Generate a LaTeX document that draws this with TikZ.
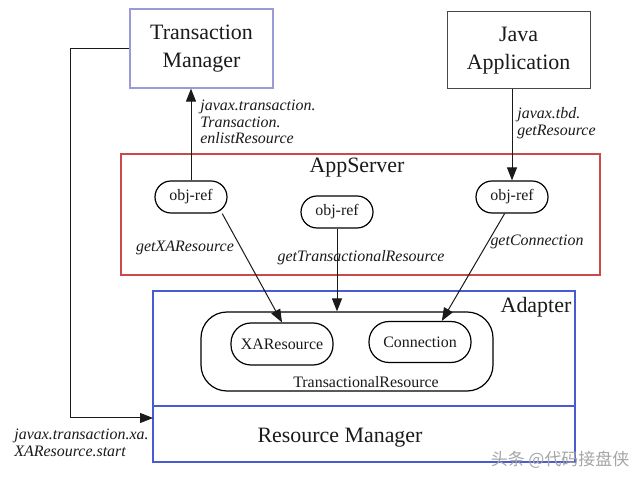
\documentclass[tikz,border=0pt]{standalone}
\usepackage{fontspec}
\setmainfont{Liberation Serif}
\newfontfamily\cjk{Noto Sans CJK SC}
\usetikzlibrary{arrows.meta}
\definecolor{tmblue}{HTML}{9A9AD8}
\definecolor{serverred}{HTML}{C94A4A}
\definecolor{adaptblue}{HTML}{4A5AD0}
\definecolor{ink}{HTML}{1A1A1A}
\tikzset{
  box/.style={draw, rectangle, line width=0.6bp, align=center, inner sep=0pt},
  pill/.style={box, rounded corners=8bp, minimum width=36bp, minimum height=16bp},
  call/.style={-{Triangle[length=6.5bp,width=5bp]}, line width=0.5bp, ink},
  title/.style={font=\fontsize{11}{14}\selectfont},
  method/.style={font=\fontsize{8}{8.3}\selectfont\itshape, align=left, inner sep=0pt},
}
\begin{document}
\begin{tikzpicture}[x=0.5bp, y=-0.5bp, every node/.style={text=ink, font=\fontsize{8}{9.5}\selectfont}]
    \useasboundingbox[fill=white] (0,0) rectangle (640,481);
    % outer boxes
    \node[box, title, draw=tmblue, minimum width=71.5bp, minimum height=39.5bp] (tm) at (201.5,48.5) {Transaction\\Manager};
    \node[box, title, draw=ink!80, line width=0.5bp, minimum width=71.5bp, minimum height=38.5bp] (ja) at (518.5,50.5) {Java\\Application};
    \node[box, draw=serverred, minimum width=239.5bp, minimum height=60.5bp] (server) at (360.5,214.5) {};
    \node[title] (servername) at (357,168) {AppServer};
    \node[box, draw=adaptblue, minimum width=211bp, minimum height=57.5bp] (adapter) at (364,348.5) {};
    \node[box, draw=adaptblue, minimum width=211bp, minimum height=28bp] (rm) at (364,434) {};
    \node[title] at (536,307) {Adapter};
    \node[title] at (340,438) {Resource Manager};
    % object references
    \node[pill] (objL) at (191,197) {obj-ref};
    \node[pill] (objM) at (337,212) {obj-ref};
    \node[pill] (objR) at (512,197) {obj-ref};
    % resources
    \node[box, rounded corners=13bp, minimum width=146bp, minimum height=39.5bp] (tr) at (347,351.5) {};
    \node at (366,382) {TransactionalResource};
    \node[box, rounded corners=10bp, minimum width=51bp, minimum height=21bp] (xar) at (282,344) {XAResource};
    \node[box, rounded corners=10bp, minimum width=51bp, minimum height=20.5bp] (conn) at (420,342) {Connection};
    % calls
    \draw[call] (objL.north) -- (objL.north |- tm.south);
    \draw[call] (objR.north |- ja.south) -- (objR.north);
    \draw[call] (objL.-28) -- (xar.north);
    \draw[call] (objM.south) -- (objM.south |- tr.north);
    \draw[call] (objR.-114) -- (conn.44);
    \coordinate (xastart) at (153,418);
    \draw[call] (tm.west) -- (70,48.5) -- (70,418) -- (xastart);
    % method names
    \node[method, anchor=west] at (200,122) {javax.transaction.\\Transaction.\\enlistResource};
    \node[method, anchor=west] at (517,123) {javax.tbd.\\getResource};
    \node[method] at (185,248) {getXAResource};
    \node[method] at (361,258) {getTransactionalResource};
    \node[method] at (537,242) {getConnection};
    \node[method, anchor=west] at (14,443) {javax.transaction.xa.\\XAResource.start};
    \node[text=gray!70, font=\cjk\fontsize{8.5}{10}\selectfont] at (560,460) {头条 @代码接盘侠};
\end{tikzpicture}
\end{document}
